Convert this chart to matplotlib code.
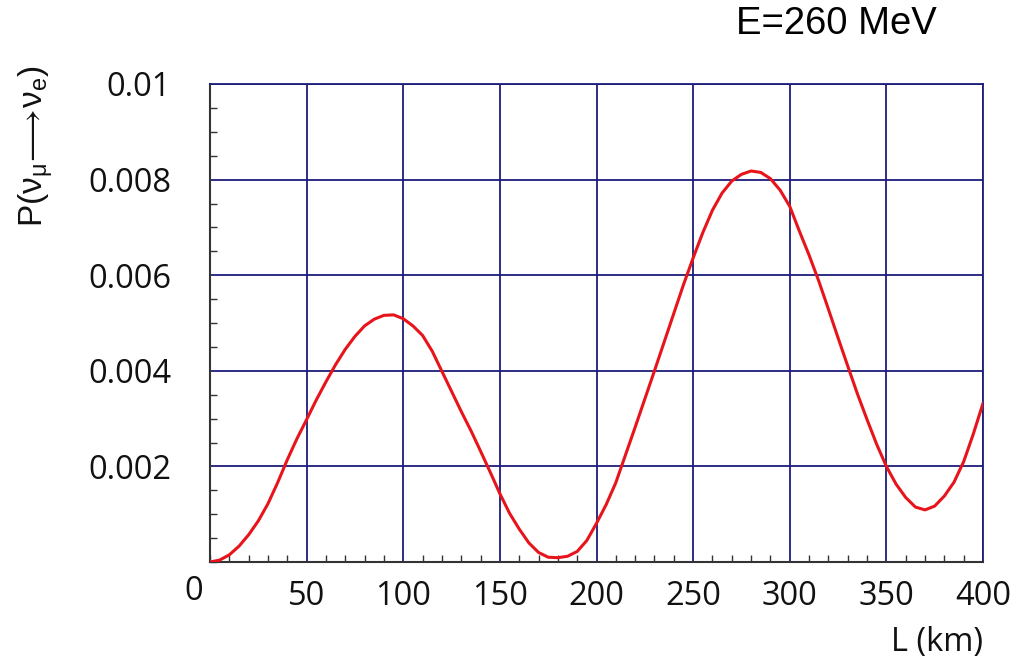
import matplotlib
matplotlib.use("Agg")
import matplotlib.pyplot as plt
from matplotlib.ticker import MultipleLocator, FixedLocator

# Data
L_km = [0, 5, 10, 15, 20, 25, 30, 35, 40, 45, 50, 55, 60, 65, 70, 75, 80, 85, 90, 95,
        100, 105, 110, 115, 120, 125, 130, 135, 140, 145, 150, 155, 160, 165, 170, 175,
        180, 185, 190, 195, 200, 205, 210, 215, 220, 225, 230, 235, 240, 245, 250, 255,
        260, 265, 270, 275, 280, 285, 290, 295, 300, 305, 310, 315, 320, 325, 330, 335,
        340, 345, 350, 355, 360, 365, 370, 375, 380, 385, 390, 395, 400]
P_mue = [0.0, 0.00004, 0.00015, 0.00033, 0.00057, 0.00086, 0.00122, 0.00166, 0.00214,
         0.00258, 0.00298, 0.00339, 0.00377, 0.00413, 0.00445, 0.00472, 0.00494, 0.00508,
         0.00516, 0.00517, 0.00509, 0.00494, 0.00474, 0.00441, 0.00399, 0.00357, 0.00315,
         0.00275, 0.00232, 0.00188, 0.00143, 0.00102, 0.00069, 0.00040, 0.00020, 0.00010,
         0.00009, 0.00012, 0.00022, 0.00045, 0.00081, 0.00120, 0.00166, 0.00224, 0.00282,
         0.00341, 0.00400, 0.00460, 0.00520, 0.00580, 0.00636, 0.00689, 0.00736, 0.00772,
         0.00797, 0.00811, 0.00818, 0.00815, 0.00802, 0.00778, 0.00744, 0.00692, 0.00642,
         0.00588, 0.00529, 0.00469, 0.00410, 0.00352, 0.00298, 0.00246, 0.00200, 0.00163,
         0.00135, 0.00115, 0.00109, 0.00117, 0.00138, 0.00167, 0.00210, 0.00268, 0.00332]

x_ticks = [50, 100, 150, 200, 250, 300, 350, 400]
x_tick_labels = ["50", "100", "150", "200", "250", "300", "350", "400"]
y_ticks = [0.002, 0.004, 0.006, 0.008, 0.01]
y_tick_labels = ["0.002", "0.004", "0.006", "0.008", "0.01"]

title_text = "E=260 MeV"
x_label = "L (km)"
y_label = r"P($\mathregular{\nu_{\mu}\!\longrightarrow\!\nu_{e}}$)"

plt.rcParams["mathtext.fontset"] = "custom"
plt.rcParams["mathtext.rm"] = "Liberation Sans"
plt.rcParams["mathtext.it"] = "Liberation Sans:italic"
plt.rcParams["mathtext.bf"] = "Liberation Sans:bold"

fig = plt.figure(figsize=(10.18, 6.63), dpi=100)
ax = fig.add_axes([210 / 1018, (663 - 562) / 663, 773 / 1018, 478 / 663])

grid_col = "#1c1c7a"
ax.set_xlim(0, 400)
ax.set_ylim(0, 0.01)
ax.xaxis.set_major_locator(FixedLocator(x_ticks))
ax.yaxis.set_major_locator(FixedLocator(y_ticks))
ax.set_xticklabels(x_tick_labels)
ax.set_yticklabels(y_tick_labels)
ax.xaxis.set_minor_locator(MultipleLocator(10))
ax.yaxis.set_minor_locator(MultipleLocator(0.0005))
ax.grid(True, which="major", color=grid_col, linewidth=1.3)
ax.set_axisbelow(True)

ax.plot(L_km, P_mue, color="#e8141b", linewidth=2.2, zorder=3, clip_on=True,
        solid_joinstyle="round")

tick_font = dict(family="Open Sans", size=23.5, color="#111111")
for lab in ax.get_xticklabels() + ax.get_yticklabels():
    lab.set_fontfamily("Open Sans")
    lab.set_fontsize(23.5)
    lab.set_color("#111111")
ax.tick_params(axis="both", which="both", direction="in", top=False, right=False,
               color="#333333")
ax.tick_params(axis="both", which="major", length=0)
ax.tick_params(axis="x", which="major", pad=13)
ax.tick_params(axis="y", which="major", pad=28)
ax.tick_params(axis="both", which="minor", length=5, width=1.0)

for side in ["left", "bottom"]:
    ax.spines[side].set_color("#333333")
    ax.spines[side].set_linewidth(1.5)
for side in ["right", "top"]:
    ax.spines[side].set_color(grid_col)
    ax.spines[side].set_linewidth(1.3)

# "0" label at the origin, offset to the left as in the reference
fig.text(194 / 1018, 1 - 592 / 663, "0", ha="center", va="center", **tick_font)

fig.text(983 / 1018, 1 - 642 / 663, x_label, ha="right", va="center", **tick_font)
fig.text(937 / 1018, 1 - 24 / 663, title_text, ha="right", va="center",
         family="Liberation Sans", size=27.5, color="black")
fig.text(36 / 1018, 1 - 146 / 663, y_label, rotation=90, ha="center", va="center",
         family="Liberation Sans", size=24, color="#111111")

fig.savefig("out.png", dpi=100)
